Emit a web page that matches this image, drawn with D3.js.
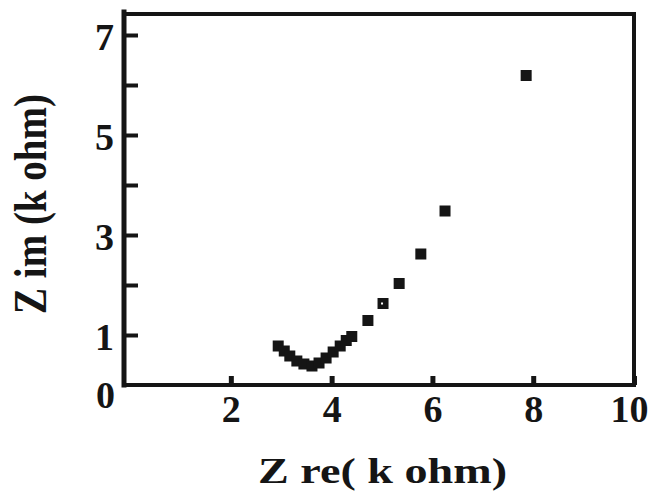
<!DOCTYPE html>
<html>
<head>
<meta charset="utf-8">
<script src="https://cdn.jsdelivr.net/npm/d3@7"></script>
<style>
  html, body { margin: 0; padding: 0; background: #fff; }
  svg { display: block; }
  text { font-family: "Liberation Serif", "DejaVu Serif", serif; font-weight: bold; fill: #151515; }
</style>
</head>
<body>
<svg id="chart" width="652" height="491"></svg>
<script>
// Nyquist plot, Z re vs Z im (k ohm)
const zRe = [2.94, 3.06, 3.17, 3.31, 3.45, 3.61, 3.75, 3.89, 4.03, 4.17, 4.29, 4.40, 4.72, 5.02, 5.34, 5.77, 6.25, 7.86]
const zIm = [0.78, 0.68, 0.58, 0.48, 0.42, 0.38, 0.44, 0.54, 0.66, 0.78, 0.89, 0.97, 1.29, 1.63, 2.03, 2.62, 3.48, 6.19]

const xTicks = [2, 4, 6, 8, 10]
const yTicks = [1, 2, 3, 4, 5, 6, 7]
const yLabelled = [1, 3, 5, 7]
const originLabel = "0"
const xTitle = "Z re( k ohm)"
const yTitle = "Z im (k ohm)"

const INK = "#151515"
const SX = 1.2 // the scan is stretched sideways, so are the glyphs

const svg = d3.select("#chart")
const x = d3.scaleLinear().domain([-0.12, 10]).range([124, 634])
const y = d3.scaleLinear().domain([0, 7.42]).range([385, 14])

// ticks (inward)
const gx = svg.append("g").attr("transform", `translate(0,${y(0)})`)
  .call(d3.axisBottom(x).tickValues(xTicks).tickSize(-9).tickSizeOuter(0).tickFormat(d3.format("d")))
gx.select(".domain").remove()
gx.selectAll(".tick line").attr("stroke", INK).attr("stroke-width", 5)
gx.selectAll(".tick text")
  .attr("font-size", 38).attr("fill", INK).attr("dy", null).attr("y", null)
  .attr("transform", (d) => `translate(${d === 10 ? -5 : 0},37)`)

const gy = svg.append("g").attr("transform", `translate(${x.range()[0]},0)`)
  .call(d3.axisLeft(y).tickValues(yTicks).tickSize(-14).tickSizeOuter(0)
    .tickFormat((d) => yLabelled.includes(d) ? String(d) : ""))
gy.select(".domain").remove()
gy.selectAll(".tick line").attr("stroke", INK).attr("stroke-width", 4)
gy.selectAll(".tick text")
  .attr("font-size", 38).attr("fill", INK).attr("dy", null).attr("x", null)
  .attr("transform", "translate(-10,14)")

svg.append("text").text(originLabel)
  .attr("font-size", 38).attr("text-anchor", "end")
  .attr("transform", `translate(${x.range()[0] - 9},${y(0) + 23})`)

// frame
const [x0, x1] = x.range(), [y0, y1] = y.range()
const frame = svg.append("g").attr("stroke", INK).attr("stroke-linecap", "square")
frame.append("line").attr("x1", x0).attr("x2", x0).attr("y1", y1 - 2).attr("y2", y0).attr("stroke-width", 5)
frame.append("line").attr("x1", x0).attr("x2", x1).attr("y1", y0).attr("y2", y0).attr("stroke-width", 4)
frame.append("line").attr("x1", x0).attr("x2", x1).attr("y1", y1).attr("y2", y1).attr("stroke-width", 4)
frame.append("line").attr("x1", x1).attr("x2", x1).attr("y1", y1).attr("y2", y0).attr("stroke-width", 4)

// points
const pts = zRe.map((v, i) => ({ re: v, im: zIm[i] }))
const S = 11
svg.append("g").selectAll("rect").data(pts).enter().append("rect")
  .attr("x", (d) => x(d.re) - S / 2).attr("y", (d) => y(d.im) - S / 2)
  .attr("width", S).attr("height", S).attr("fill", INK)
// one marker in the scan has a white pinhole
svg.append("rect").datum(pts[13])
  .attr("x", (d) => x(d.re) - 2).attr("y", (d) => y(d.im) - 1)
  .attr("width", 2).attr("height", 2).attr("fill", "#fff")

// titles
svg.append("text").text(xTitle)
  .attr("font-size", 36).attr("x", 258).attr("y", 483)
  .attr("textLength", 249).attr("lengthAdjust", "spacingAndGlyphs")

svg.append("text").text(yTitle)
  .attr("font-size", 39).attr("text-anchor", "middle")
  .attr("transform", `translate(46,204) scale(${SX},1) rotate(-90)`)
</script>
</body>
</html>
